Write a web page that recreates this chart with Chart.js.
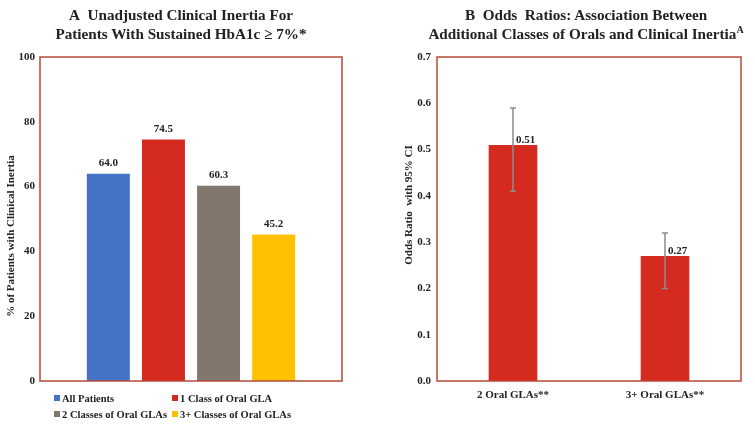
<!DOCTYPE html>
<html>
<head>
<meta charset="utf-8">
<script src="https://cdn.jsdelivr.net/npm/chart.js@4"></script>
<style>
  body { margin: 0; background: #fff; }
  #wrap { position: relative; width: 755px; height: 425px; font-family: "Liberation Serif", "Times New Roman", serif; color: #222; }
  .title { position: absolute; top: 5px; font-weight: bold; font-size: 15.2px; line-height: 19px; text-align: center; white-space: nowrap; }
  .title sup { font-size: 10px; vertical-align: 6px; line-height: 0; }
  .ytitle { position: absolute; width: 240px; height: 14px; margin-left: -120px; margin-top: -7px; transform: rotate(-90deg); text-align: center; font-weight: bold; font-size: 11px; line-height: 14px; white-space: nowrap; }
  #legend { position: absolute; left: 54px; top: 393px; display: grid; grid-template-columns: 118px 150px; row-gap: 5px; font-weight: bold; font-size: 10.5px; }
  #legend span.box { display: inline-block; width: 6px; height: 6px; margin-right: 2px; vertical-align: 1px; }
  canvas { position: absolute; top: 0; }
</style>
</head>
<body>
<div id="wrap">
  <canvas id="chartA" width="380" height="425" style="left:0"></canvas>
  <canvas id="chartB" width="375" height="425" style="left:380px"></canvas>
  <div class="title" style="left:0; width:362px;">A&nbsp; Unadjusted Clinical Inertia For<br>Patients With Sustained HbA1c ≥ 7%*</div>
  <div class="title" style="left:406px; width:360px;">B&nbsp; Odds&nbsp; Ratios: Association Between<br>Additional Classes of Orals and Clinical Inertia<sup>A</sup></div>
  <div class="ytitle" style="left:10px; top:236px;">% of Patients with Clinical Inertia</div>
  <div class="ytitle" style="left:408px; top:205px;">Odds Ratio&nbsp; with 95% CI</div>
  <div id="legend"></div>
</div>
<script>
// panel A
const groupNames = ["All Patients", "1 Class of Oral GLA", "2 Classes of Oral GLAs", "3+ Classes of Oral GLAs"];
const inertiaPct = [64.0, 74.5, 60.3, 45.2];
const groupColors = ["#4472c4", "#d42a1f", "#82776d", "#ffc000"];

// panel B
const orCategories = ["2 Oral GLAs**", "3+ Oral GLAs**"];
const oddsRatios = [0.51, 0.27];
const ciLow = [0.41, 0.20];
const ciHigh = [0.59, 0.32];

const serif = "'Liberation Serif', 'Times New Roman', serif";
const borderColor = "#b5493a";

const frame = {
  id: "frame",
  afterDraw(chart) {
    const a = chart.chartArea, c = chart.ctx;
    c.save();
    c.strokeStyle = borderColor;
    c.lineWidth = 1.5;
    c.strokeRect(a.left, a.top, a.right - a.left, a.bottom - a.top);
    c.restore();
  }
};

const valueLabels = {
  id: "valueLabels",
  afterDatasetsDraw(chart, args, opts) {
    const c = chart.ctx;
    c.save();
    c.font = "bold 11px " + serif;
    c.fillStyle = "#222";
    chart.data.datasets.forEach((ds, i) => {
      chart.getDatasetMeta(i).data.forEach((bar, j) => {
        const v = ds.data[j];
        if (opts.side) {
          c.textAlign = "left";
          c.textBaseline = "bottom";
          c.fillText(v.toFixed(2), bar.x + 3, bar.y + 1);
        } else {
          c.textAlign = "center";
          c.textBaseline = "bottom";
          c.fillText(v.toFixed(1), bar.x, bar.y - 5);
        }
      });
    });
    c.restore();
  }
};

const errorBars = {
  id: "errorBars",
  afterDatasetsDraw(chart) {
    const c = chart.ctx, y = chart.scales.y;
    c.save();
    c.strokeStyle = "#8c8c8c";
    c.lineWidth = 1.5;
    chart.getDatasetMeta(0).data.forEach((bar, j) => {
      const top = y.getPixelForValue(ciHigh[j]);
      const bot = y.getPixelForValue(ciLow[j]);
      c.beginPath();
      c.moveTo(bar.x, top); c.lineTo(bar.x, bot);
      c.moveTo(bar.x - 3, top); c.lineTo(bar.x + 3, top);
      c.moveTo(bar.x - 3, bot); c.lineTo(bar.x + 3, bot);
      c.stroke();
    });
    c.restore();
  }
};

const tickFont = { family: serif, size: 11, weight: "bold" };

new Chart(document.getElementById("chartA"), {
  type: "bar",
  data: {
    labels: [""],
    datasets: groupNames.map((name, i) => ({
      label: name,
      data: [inertiaPct[i]],
      backgroundColor: groupColors[i]
    }))
  },
  options: {
    responsive: false,
    animation: false,
    categoryPercentage: 0.73,
    barPercentage: 0.78,
    layout: { padding: { top: 57, right: 38, bottom: 44, left: 0 } },
    plugins: { legend: { display: false }, tooltip: { enabled: false }, valueLabels: { side: false } },
    scales: {
      x: { display: false },
      y: {
        min: 0, max: 100,
        ticks: { stepSize: 20, font: tickFont, color: "#222", padding: 5 },
        grid: { display: false, drawTicks: false },
        border: { display: false },
        afterFit(s) { s.width = 40; }
      }
    }
  },
  plugins: [frame, valueLabels]
});

new Chart(document.getElementById("chartB"), {
  type: "bar",
  data: {
    labels: orCategories,
    datasets: [{ label: "Odds Ratio", data: oddsRatios, backgroundColor: "#d42a1f" }]
  },
  options: {
    responsive: false,
    animation: false,
    categoryPercentage: 1,
    barPercentage: 0.32,
    layout: { padding: { top: 57, right: 14, bottom: 20, left: 0 } },
    plugins: { legend: { display: false }, tooltip: { enabled: false }, valueLabels: { side: true } },
    scales: {
      x: {
        ticks: { font: tickFont, color: "#222", padding: 8 },
        grid: { display: false, drawTicks: false },
        border: { display: false },
        afterFit(s) { s.height = 24; }
      },
      y: {
        min: 0, max: 0.7,
        ticks: { stepSize: 0.1, font: tickFont, color: "#222", padding: 6, callback: v => v.toFixed(1) },
        grid: { display: false, drawTicks: false },
        border: { display: false },
        afterFit(s) { s.width = 57; }
      }
    }
  },
  plugins: [frame, errorBars, valueLabels]
});

const legend = document.getElementById("legend");
groupNames.forEach((name, i) => {
  const item = document.createElement("div");
  item.innerHTML = '<span class="box" style="background:' + groupColors[i] + '"></span>' + name;
  legend.appendChild(item);
});
</script>
</body>
</html>
